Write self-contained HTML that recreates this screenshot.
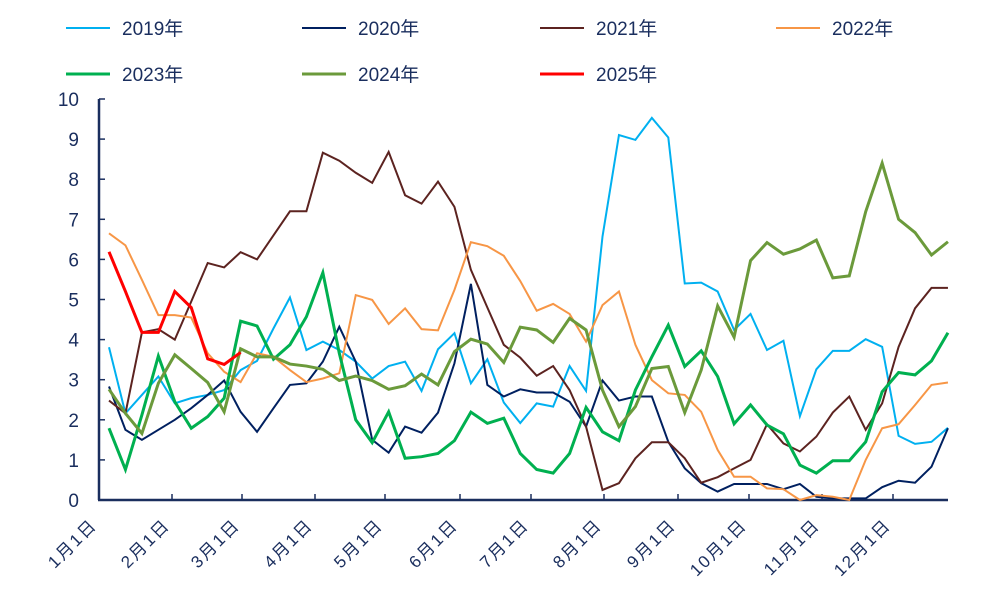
<!DOCTYPE html>
<html><head><meta charset="utf-8"><style>
body{margin:0;background:#fff;}
svg{display:block;font-family:"Liberation Sans","Noto Sans CJK SC",sans-serif;}
</style></head><body>
<svg id="chart" width="984" height="590"></svg>
<script>
const months=["1月1日","2月1日","3月1日","4月1日","5月1日","6月1日","7月1日","8月1日","9月1日","10月1日","11月1日","12月1日"];
const monthTickX=[99,172,242,315,385,460,531,604,678,749,822,893];
const yTicks=[0,1,2,3,4,5,6,7,8,9,10];
const seriesNames=["2019年","2020年","2021年","2022年","2023年","2024年","2025年"];
const s2019=[3.81,2.16,2.62,3.08,2.41,2.54,2.62,2.74,3.24,3.47,4.28,5.05,3.74,3.95,3.74,3.45,3.03,3.34,3.45,2.72,3.76,4.16,2.91,3.51,2.43,1.92,2.41,2.33,3.34,2.72,6.57,9.1,8.98,9.53,9.04,5.4,5.42,5.2,4.24,4.64,3.74,3.97,2.09,3.26,3.72,3.72,4.01,3.82,1.6,1.4,1.45,1.8];
const s2020=[2.83,1.75,1.5,1.75,2.0,2.29,2.62,2.98,2.2,1.7,2.29,2.87,2.91,3.45,4.32,3.45,1.5,1.18,1.83,1.68,2.18,3.41,5.39,2.87,2.58,2.76,2.68,2.68,2.45,1.83,2.98,2.48,2.58,2.58,1.45,0.79,0.42,0.21,0.4,0.4,0.4,0.27,0.4,0.08,0.04,0.04,0.04,0.32,0.48,0.43,0.83,1.79];
const s2021=[2.48,2.16,4.18,4.26,4.0,4.95,5.91,5.8,6.18,6.0,6.6,7.2,7.2,8.66,8.46,8.16,7.91,8.68,7.6,7.39,7.94,7.31,5.74,4.8,3.87,3.55,3.1,3.34,2.74,1.83,0.25,0.42,1.04,1.44,1.44,1.04,0.43,0.57,0.79,1.0,1.89,1.41,1.21,1.58,2.18,2.58,1.75,2.41,3.82,4.78,5.29,5.29];
const s2022=[6.65,6.35,5.49,4.61,4.61,4.55,3.66,3.2,2.94,3.66,3.57,3.24,2.94,3.03,3.16,5.11,4.99,4.39,4.78,4.26,4.23,5.24,6.43,6.33,6.09,5.46,4.72,4.89,4.64,3.95,4.86,5.2,3.87,2.99,2.66,2.62,2.2,1.25,0.58,0.58,0.29,0.27,0.0,0.12,0.08,0.0,1.0,1.79,1.89,2.37,2.87,2.93];
const s2023=[1.79,0.76,2.12,3.59,2.45,1.79,2.08,2.54,4.46,4.34,3.51,3.87,4.57,5.67,3.66,2.0,1.43,2.2,1.04,1.08,1.16,1.48,2.19,1.91,2.04,1.16,0.76,0.67,1.16,2.31,1.7,1.48,2.74,3.57,4.36,3.33,3.72,3.08,1.9,2.37,1.87,1.65,0.87,0.67,0.98,0.98,1.45,2.7,3.18,3.12,3.47,4.17];
const s2024=[2.76,2.16,1.66,2.91,3.62,3.28,2.93,2.2,3.77,3.57,3.57,3.39,3.34,3.26,2.98,3.09,2.98,2.76,2.85,3.14,2.87,3.7,4.01,3.89,3.43,4.31,4.24,3.93,4.53,4.24,2.74,1.83,2.33,3.28,3.33,2.18,3.24,4.84,4.06,5.97,6.42,6.13,6.26,6.48,5.54,5.59,7.19,8.4,7.0,6.67,6.11,6.44];
const s2025=[6.19,5.2,4.18,4.18,5.2,4.8,3.52,3.38,3.68];
const seriesData=[s2019,s2020,s2021,s2022,s2023,s2024,s2025];
const colors=["#00b0f0","#002060","#5c2320","#f79646","#00b050","#6b9a3b","#ff0000"];
const widths=[2,2,2,2,3,3,3];
const NS="http://www.w3.org/2000/svg";
const svg=document.getElementById('chart');
const x0=109, dx=16.45, yBase=500, yPer=40.1;
const xs=i=>x0+dx*i;
const ys=v=>yBase-v*yPer;
function mk(t,a,p){const e=document.createElementNS(NS,t);for(const k in a)e.setAttribute(k,a[k]);(p||svg).appendChild(e);return e;}
const axisC="#1a2e5e";
let e=mk('line',{x1:99,y1:ys(10),x2:99,y2:500,stroke:axisC,'stroke-width':2.5});


yTicks.forEach(v=>{
 const t=mk('line',{x1:99,x2:105,y1:ys(v),y2:ys(v),stroke:axisC,'stroke-width':1.5});
 
 
 const l=mk('text',{x:79,y:ys(v)+7,'text-anchor':'end','font-size':19,fill:axisC});
 l.textContent=v;
 
 
});
e=mk('line',{x1:98,y1:500,x2:948,y2:500,stroke:axisC,'stroke-width':2.5});


months.forEach((m,i)=>{
 const tx=monthTickX[i];
 if(i>0){const t=mk('line',{x1:tx,x2:tx,y1:500,y2:494,stroke:axisC,'stroke-width':1.5});
 
 }
 const lx=tx-1, ly=526;
 const l=mk('text',{x:lx,y:ly,'text-anchor':'end','font-size':17,'letter-spacing':2,fill:axisC,transform:`rotate(-45 ${lx} ${ly})`});
 l.textContent=m;
 
 
});
seriesData.forEach((d,k)=>{
 const p=mk('polyline',{points:d.map((v,i)=>xs(i)+','+ys(v)).join(' '),fill:'none',stroke:colors[k],'stroke-width':widths[k],'stroke-linejoin':'miter'});
 
 
});
const legPos=[[66,28],[302,28],[540,28],[776,28],[66,74],[302,74],[540,74]];
seriesNames.forEach((n,k)=>{
 const g=mk('g',{});
 
 
 const [lx,ly]=legPos[k];
 mk('line',{x1:lx,x2:lx+44,y1:ly,y2:ly,stroke:colors[k],'stroke-width':widths[k]},g);
 const t=mk('text',{x:lx+56,y:ly+7,'font-size':19,fill:axisC},g);
 t.textContent=n;
});
</script>
</body></html>
